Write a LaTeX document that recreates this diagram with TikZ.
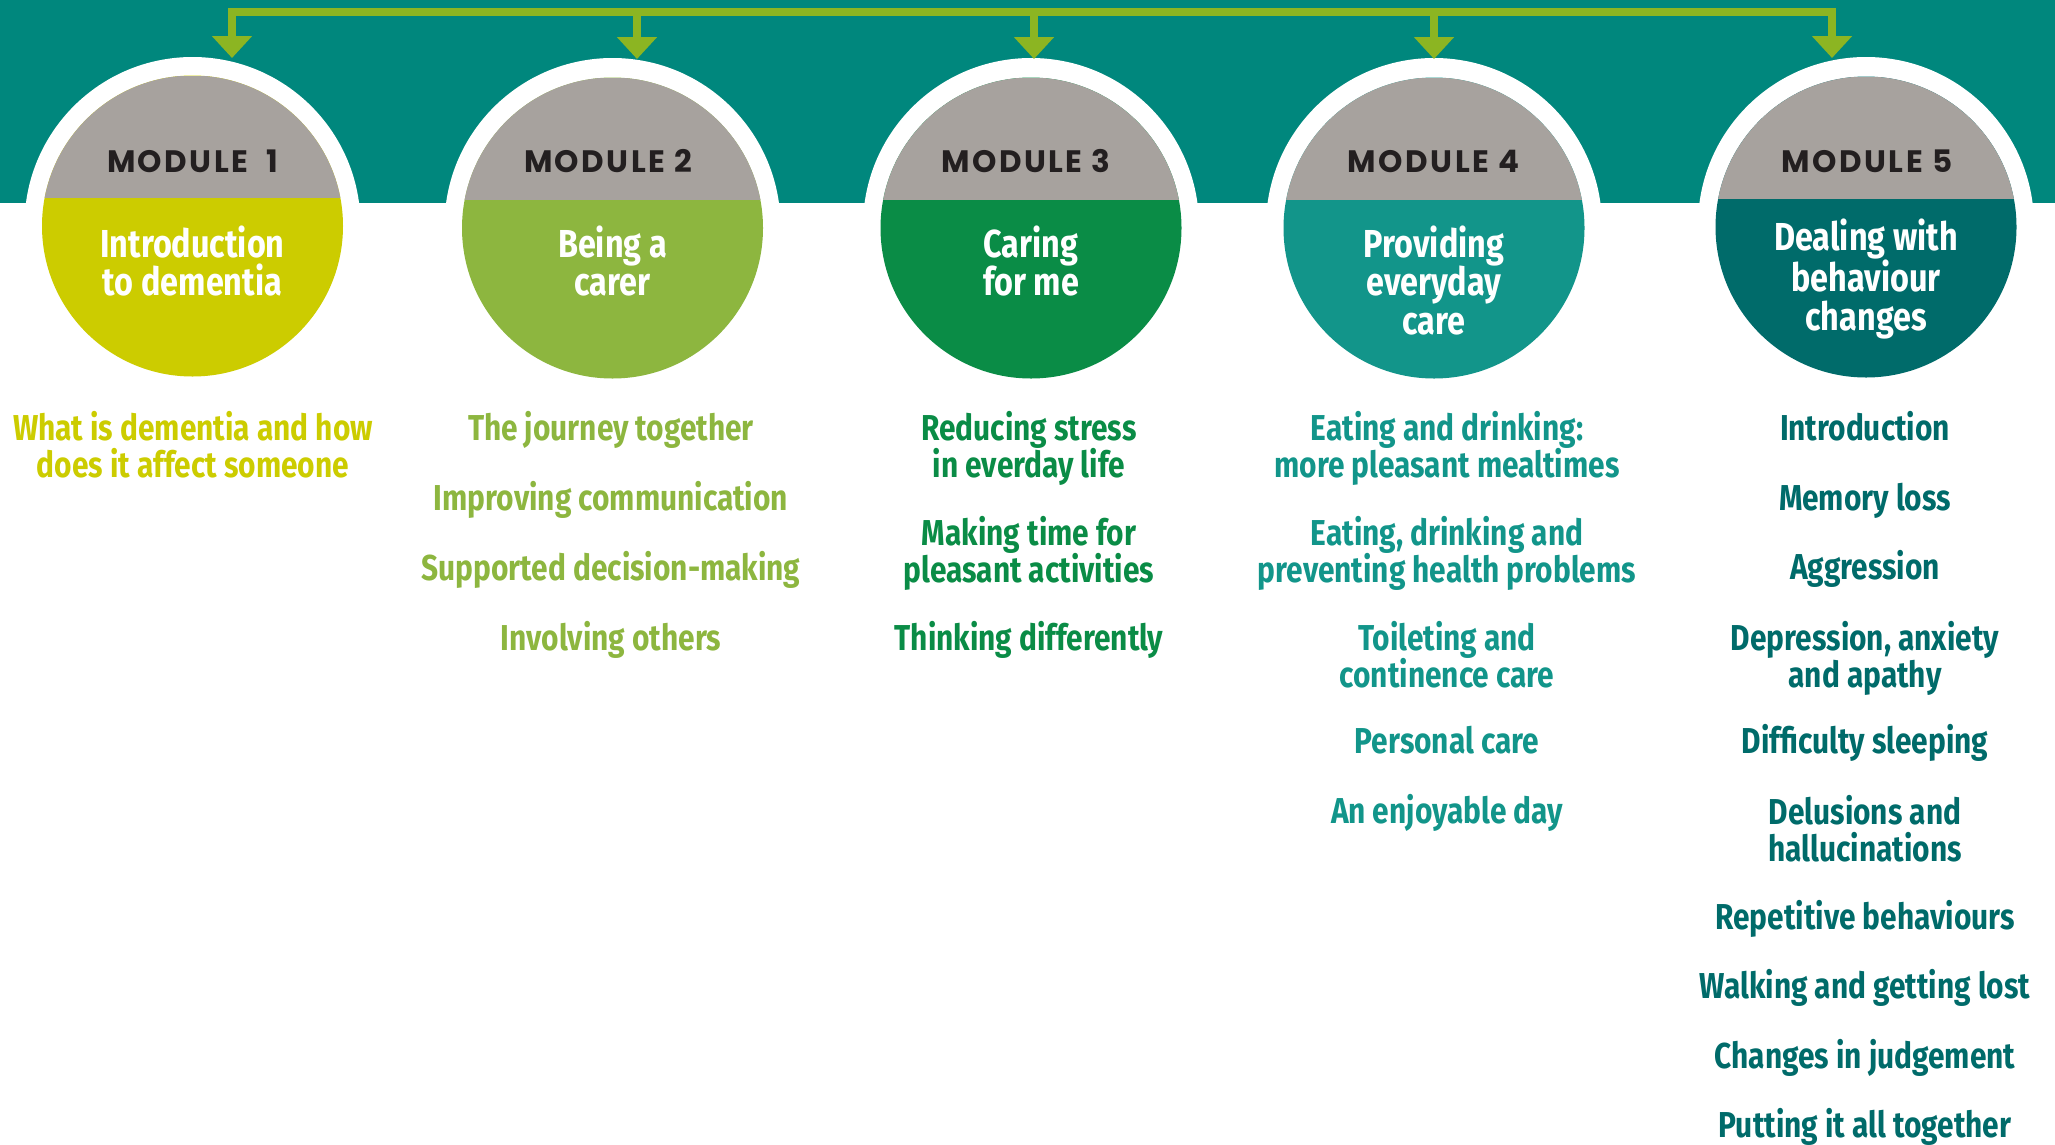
\documentclass[tikz,border=0pt]{standalone}
\usepackage{fontspec}
\usetikzlibrary{arrows.meta,calc}
\newfontfamily\condfont{Fira Sans}[FakeStretch=0.83]
\newfontfamily\modfont{Poppins}[LetterSpace=8]
\definecolor{band}{RGB}{0,135,125}
\definecolor{modgray}{RGB}{167,162,158}
\definecolor{cA}{RGB}{204,204,0}
\definecolor{cB}{RGB}{141,182,63}
\definecolor{cC}{RGB}{10,140,70}
\definecolor{cD}{RGB}{18,149,138}
\definecolor{cE}{RGB}{0,107,106}
\definecolor{arrowgreen}{RGB}{140,181,34}
\definecolor{modtext}{RGB}{35,31,32}
\tikzset{
  outerring/.style={circle, fill=white, minimum size=336pt, inner sep=0pt},
  modcircle/.style={circle, fill=#1, minimum size=301pt, inner sep=0pt,
    path picture={\fill[modgray] (path picture bounding box.north west) rectangle ($(path picture bounding box.center)+(160,-28)$);}},
  modlabel/.style={anchor=base, text=modtext, font=\modfont\bfseries\fontsize{31}{33}\selectfont},
  title/.style={anchor=base, align=center, text=white, font=\condfont\bfseries\fontsize{39}{38.5}\selectfont},
  item/.style={anchor=base, align=center, text=#1, font=\condfont\bfseries\fontsize{36}{37.5}\selectfont},
  bus/.style={draw=arrowgreen, line width=7.4pt, line join=miter},
  mytip/.tip={Triangle[width=39pt, length=22pt]}
}
\begin{document}
\begin{tikzpicture}[x=1pt, y=-1pt]
\useasboundingbox (0,0) rectangle (2055,1144);
\fill[band] (0,0) rectangle (2055,203);
% outer white rings
\node[outerring] (o1) at (192.5,225) {};
\node[outerring] (o2) at (612.5,226) {};
\node[outerring] (o3) at (1031,226) {};
\node[outerring] (o4) at (1434,226) {};
\node[outerring] (o5) at (1866,225) {};
% module circles
\node[modcircle=cA] (m1) at (192.5,226) {};
\node[modcircle=cB] (m2) at (612.5,228) {};
\node[modcircle=cC] (m3) at (1031,228) {};
\node[modcircle=cD] (m4) at (1434,228) {};
\node[modcircle=cE] (m5) at (1866,227) {};
% arrows
\coordinate (a1) at (232,12);
\coordinate (a2) at (637,12);
\coordinate (a3) at (1034,12);
\coordinate (a4) at (1434,12);
\coordinate (a5) at (1832,12);
\coordinate (t1) at (232,58);
\coordinate (t2) at (637,59);
\coordinate (t3) at (1034,59);
\coordinate (t4) at (1434,59);
\coordinate (t5) at (1832,58);
\draw[bus, mytip-mytip] (t1) -- (a1) -- (a5) -- (t5);
\draw[bus, -mytip] (a2) -- (t2);
\draw[bus, -mytip] (a3) -- (t3);
\draw[bus, -mytip] (a4) -- (t4);
% module labels
\node[modlabel] (l1) at (192.5,172) {MODULE\ \ 1};
\node[modlabel] (l2) at (608,172) {MODULE 2};
\node[modlabel] (l3) at (1026,172) {MODULE 3};
\node[modlabel] (l4) at (1433.5,172) {MODULE 4};
\node[modlabel] (l5) at (1867,172) {MODULE 5};
% titles (base = last line)
\node[title] (h1) at (192.5,295.5) {Introduction\\to dementia};
\node[title] (h2) at (612.5,295.5) {Being a\\carer};
\node[title] (h3) at (1031,295.5) {Caring\\for me};
\node[title] (h4) at (1434,334) {Providing\\everyday\\care};
\node[title] (h5) at (1866,330) {Dealing with\\behaviour\\changes};
% column 1
\node[item=cA] (p1) at (193,477.5) {What is dementia and how\\does it affect someone};
% column 2
\node[item=cB] (q1) at (611,440) {The journey together};
\node[item=cB] (q2) at (611,510) {Improving communication};
\node[item=cB] (q3) at (611,580) {Supported decision-making};
\node[item=cB] (q4) at (611,650) {Involving others};
% column 3
\node[item=cC] (r1) at (1029,477.5) {Reducing stress\\in everday life};
\node[item=cC] (r2) at (1029,582.5) {Making time for\\pleasant activities};
\node[item=cC] (r3) at (1029,650) {Thinking differently};
% column 4
\node[item=cD] (s1) at (1447,477.5) {Eating and drinking:\\more pleasant mealtimes};
\node[item=cD] (s2) at (1447,582.5) {Eating, drinking and\\preventing health problems};
\node[item=cD] (s3) at (1447,687.5) {Toileting and\\continence care};
\node[item=cD] (s4) at (1447,753) {Personal care};
\node[item=cD] (s5) at (1447,823) {An enjoyable day};
% column 5
\node[item=cE] (u1) at (1865,440) {Introduction};
\node[item=cE] (u2) at (1865,510) {Memory loss};
\node[item=cE] (u3) at (1865,579) {Aggression};
\node[item=cE] (u4) at (1865,687.5) {Depression, anxiety\\and apathy};
\node[item=cE] (u5) at (1865,753) {Difficulty sleeping};
\node[item=cE] (u6) at (1865,861.5) {Delusions and\\hallucinations};
\node[item=cE] (u7) at (1865,929) {Repetitive behaviours};
\node[item=cE] (u8) at (1865,998) {Walking and getting lost};
\node[item=cE] (u9) at (1865,1068) {Changes in judgement};
\node[item=cE] (u10) at (1865,1137) {Putting it all together};
\end{tikzpicture}
\end{document}
